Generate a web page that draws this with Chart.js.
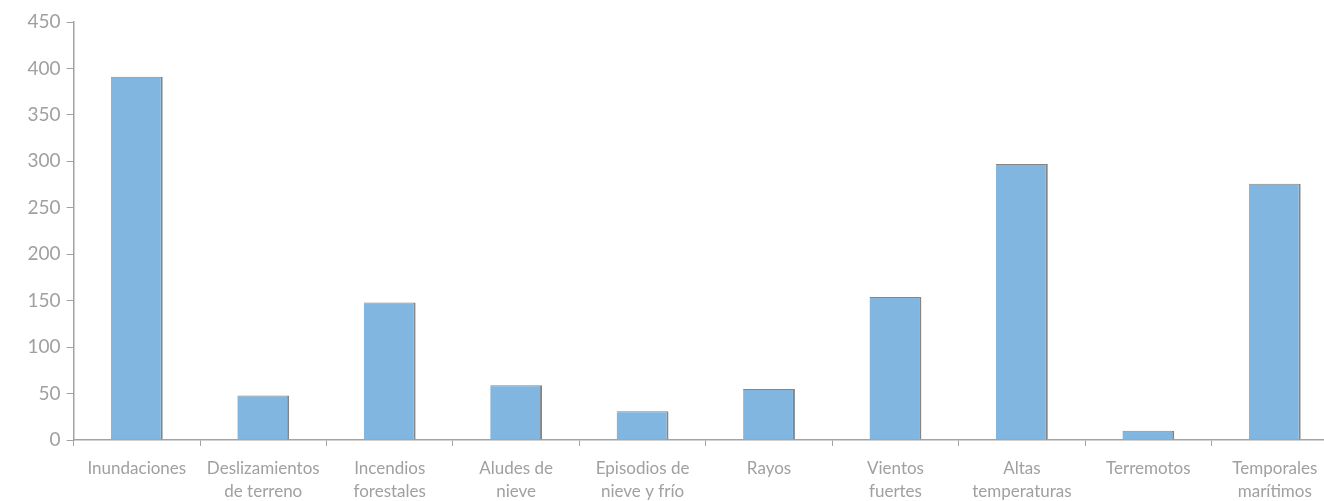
<!DOCTYPE html>
<html>
<head>
<meta charset="utf-8">
<script src="https://cdn.jsdelivr.net/npm/chart.js@4"></script>
<style>
  html, body { margin: 0; padding: 0; background: #fff; overflow: hidden; }
  #wrap { width: 1338px; height: 510px; }
</style>
</head>
<body>
<div id="wrap"><canvas id="bars" width="1338" height="510"></canvas></div>
<script>
// Categories and counts
const categories = [
  "Inundaciones",
  ["Deslizamientos", "de terreno"],
  ["Incendios", "forestales"],
  ["Aludes de", "nieve"],
  ["Episodios de", "nieve y frío"],
  "Rayos",
  ["Vientos", "fuertes"],
  ["Altas", "temperaturas"],
  "Terremotos",
  ["Temporales", "marítimos"],
];
const counts = [391, 48, 148, 59, 31, 55, 154, 297, 10, 276];

const axisGray = "#a3a3a3";
const textGray = "#a0a0a0";

const ctx = document.getElementById("bars").getContext("2d");

new Chart(ctx, {
  type: "bar",
  data: {
    labels: categories,
    datasets: [{
      data: counts,
      backgroundColor: "#80b6e0",
      borderColor: "#858585",
      borderWidth: { top: 1, right: 2, bottom: 0, left: 0 },
      borderSkipped: false,
      categoryPercentage: 1,
      barPercentage: 0.41,
    }],
  },
  options: {
    responsive: false,
    animation: false,
    layout: { padding: { top: 22, right: 0, bottom: 0, left: 0 } },
    plugins: {
      legend: { display: false },
      tooltip: { enabled: false },
    },
    scales: {
      x: {
        offset: true,
        grid: {
          offset: true,
          drawOnChartArea: false,
          drawTicks: true,
          tickLength: 6,
          color: axisGray,
        },
        border: { color: axisGray, width: 1.5 },
        ticks: {
          color: textGray,
          font: { family: "Lato", size: 17, lineHeight: 1.35 },
          padding: 11,
          maxRotation: 0,
          autoSkip: false,
        },
        afterFit: (scale) => { scale.height = 70; },
      },
      y: {
        min: 0,
        max: 450,
        ticks: {
          stepSize: 50,
          color: textGray,
          font: { family: "Lato", size: 19 },
          padding: 6,
        },
        grid: {
          drawOnChartArea: false,
          drawTicks: true,
          tickLength: 7,
          color: axisGray,
        },
        border: { color: axisGray, width: 1.5 },
        afterFit: (scale) => { scale.width = 73.6; },
      },
    },
  },
});
</script>
</body>
</html>
